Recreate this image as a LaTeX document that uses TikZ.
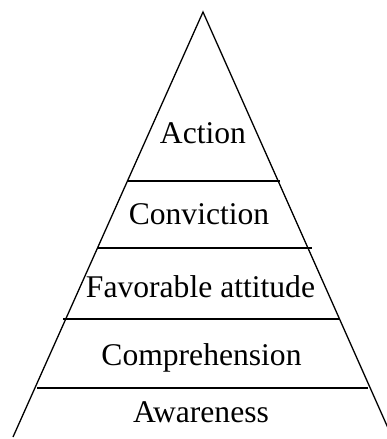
\documentclass[tikz,border=0pt]{standalone}
\usepackage{fontspec}
\setmainfont{Liberation Serif}
\begin{document}
\begin{tikzpicture}[x=1pt,y=-1pt,
  edge/.style={line width=1.3pt, black},
  lvl/.style={anchor=base, inner sep=0pt, font=\fontsize{31.6}{36}\selectfont}]
\useasboundingbox (0,0) rectangle (387,439);
\clip (0,0) rectangle (387,439);
\coordinate (apex) at (203,12);
\coordinate (bl) at (13,437);
\coordinate (br) at (392,437);
\draw[edge] (bl) -- (apex) -- (br);
\coordinate (l1a) at (127,181); \coordinate (l1b) at (280,181);
\coordinate (l2a) at (98,248);  \coordinate (l2b) at (312,248);
\coordinate (l3a) at (63,319);  \coordinate (l3b) at (340,319);
\coordinate (l4a) at (37,388);  \coordinate (l4b) at (368,388);
\draw[edge] (l1a) -- (l1b);
\draw[edge] (l2a) -- (l2b);
\draw[edge] (l3a) -- (l3b);
\draw[edge] (l4a) -- (l4b);
\node[lvl] (action) at (203,143) {Action};
\node[lvl] (conviction) at (199,224) {Conviction};
\node[lvl] (favorable) at (200.5,297) {Favorable attitude};
\node[lvl] (comprehension) at (201.5,365) {Comprehension};
\node[lvl] (awareness) at (201,422) {Awareness};
\end{tikzpicture}
\end{document}
